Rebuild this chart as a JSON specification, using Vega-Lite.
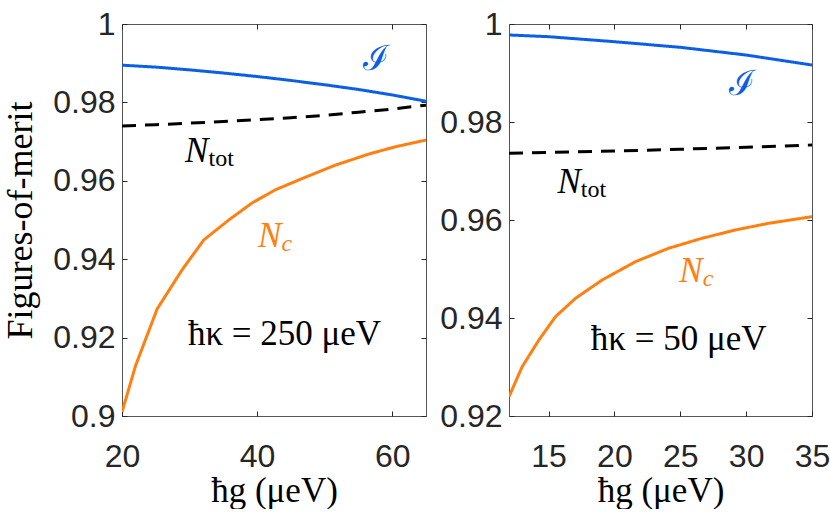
{
  "$schema": "https://vega.github.io/schema/vega-lite/v6.json",
  "background": "white",
  "padding": {"left": 2, "top": 7, "right": 0, "bottom": 0},
  "bounds": "flush",
  "spacing": 83,
  "config": {
    "view": {"stroke": "#555555", "strokeWidth": 1},
    "axis": {
      "domain": false, "grid": false, "ticks": true, "tickSize": -5, "tickColor": "#262626", "tickWidth": 1,
      "labelFont": "Liberation Sans", "labelFontSize": 32, "labelColor": "#262626", "labelPadding": 12,
      "labelFlush": false, "labelOverlap": false,
      "titleFont": "Liberation Serif", "titleFontSize": 35, "titleFontWeight": "normal", "titleColor": "#000000"
    },
    "text": {"font": "Liberation Serif"}
  },
  "datasets": {
    "left": [
      {"g": 20, "v": 0.9895, "s": "I"}, {"g": 25, "v": 0.9890, "s": "I"}, {"g": 30, "v": 0.9883, "s": "I"},
      {"g": 35, "v": 0.9875, "s": "I"}, {"g": 40, "v": 0.9866, "s": "I"}, {"g": 45, "v": 0.9856, "s": "I"},
      {"g": 50, "v": 0.9845, "s": "I"}, {"g": 55, "v": 0.9833, "s": "I"}, {"g": 60, "v": 0.9819, "s": "I"},
      {"g": 65, "v": 0.9803, "s": "I"},
      {"g": 20, "v": 0.9740, "s": "Ntot"}, {"g": 25, "v": 0.9743, "s": "Ntot"}, {"g": 30, "v": 0.9747, "s": "Ntot"},
      {"g": 35, "v": 0.9751, "s": "Ntot"}, {"g": 40, "v": 0.9756, "s": "Ntot"}, {"g": 45, "v": 0.9761, "s": "Ntot"},
      {"g": 50, "v": 0.9767, "s": "Ntot"}, {"g": 55, "v": 0.9775, "s": "Ntot"}, {"g": 60, "v": 0.9783, "s": "Ntot"},
      {"g": 65, "v": 0.9793, "s": "Ntot"},
      {"g": 20, "v": 0.9010, "s": "Nc"}, {"g": 22, "v": 0.9128, "s": "Nc"}, {"g": 25.2, "v": 0.9273, "s": "Nc"},
      {"g": 28.9, "v": 0.9373, "s": "Nc"}, {"g": 32.1, "v": 0.9449, "s": "Nc"}, {"g": 35.8, "v": 0.9500, "s": "Nc"},
      {"g": 39.3, "v": 0.9544, "s": "Nc"}, {"g": 42.7, "v": 0.9577, "s": "Nc"}, {"g": 46.7, "v": 0.9606, "s": "Nc"},
      {"g": 51.6, "v": 0.9640, "s": "Nc"}, {"g": 56.5, "v": 0.9668, "s": "Nc"}, {"g": 60.5, "v": 0.9687, "s": "Nc"},
      {"g": 65, "v": 0.9704, "s": "Nc"}
    ],
    "right": [
      {"g": 12, "v": 0.99776, "s": "I"}, {"g": 15, "v": 0.99741, "s": "I"}, {"g": 20, "v": 0.99639, "s": "I"},
      {"g": 25, "v": 0.99524, "s": "I"}, {"g": 30, "v": 0.99367, "s": "I"}, {"g": 35, "v": 0.99163, "s": "I"},
      {"g": 12, "v": 0.97361, "s": "Ntot"}, {"g": 20, "v": 0.97408, "s": "Ntot"}, {"g": 25, "v": 0.97444, "s": "Ntot"},
      {"g": 30, "v": 0.97484, "s": "Ntot"}, {"g": 35, "v": 0.97531, "s": "Ntot"},
      {"g": 12, "v": 0.92394, "s": "Nc"}, {"g": 13.0, "v": 0.93006, "s": "Nc"}, {"g": 14.27, "v": 0.93551, "s": "Nc"},
      {"g": 15.53, "v": 0.94027, "s": "Nc"}, {"g": 17.05, "v": 0.94402, "s": "Nc"}, {"g": 19.07, "v": 0.94776, "s": "Nc"},
      {"g": 21.6, "v": 0.95149, "s": "Nc"}, {"g": 24.1, "v": 0.95422, "s": "Nc"}, {"g": 26.64, "v": 0.95626, "s": "Nc"},
      {"g": 29.17, "v": 0.95796, "s": "Nc"}, {"g": 31.7, "v": 0.95932, "s": "Nc"}, {"g": 35, "v": 0.96068, "s": "Nc"}
    ],
    "leftLab": [
      {"g": 32.8, "v": 0.96487, "s": "Ntot", "main": "N", "sub": "tot"},
      {"g": 43.6, "v": 0.94304, "s": "Nc", "main": "N", "sub": "c"}
    ],
    "leftNote": [
      {"g": 57.63, "v": 0.98827, "s": "I", "t": "ℐ"},
      {"g": 44.05, "v": 0.91811, "s": "K", "t": "ħκ = 250 μeV"}
    ],
    "rightLab": [
      {"g": 17.45, "v": 0.96545, "s": "Ntot", "main": "N", "sub": "tot"},
      {"g": 26.7, "v": 0.94741, "s": "Nc", "main": "N", "sub": "c"}
    ],
    "rightNote": [
      {"g": 29.67, "v": 0.98551, "s": "I", "t": "ℐ"},
      {"g": 24.88, "v": 0.93347, "s": "K", "t": "ħκ = 50 μeV"}
    ]
  },
  "hconcat": [
    {
      "width": 304,
      "height": 392,
      "resolve": {"axis": {"x": "independent", "y": "independent"}},
      "layer": [
        {
          "data": {"name": "left"},
          "mark": {"type": "line", "strokeWidth": 3, "clip": true},
          "encoding": {
            "x": {"field": "g", "type": "quantitative", "scale": {"domain": [20, 65], "nice": false, "zero": false},
                  "axis": {"orient": "bottom", "values": [20, 40, 60], "title": "ħg  (μeV)", "labelPadding": 30, "titlePadding": 1}},
            "y": {"field": "v", "type": "quantitative", "scale": {"domain": [0.9, 1], "nice": false, "zero": false},
                  "axis": {"orient": "left", "values": [0.9, 0.92, 0.94, 0.96, 0.98, 1], "format": "~g", "title": "Figures-of-merit", "titlePadding": 13, "titleFontSize": 36}},
            "color": {"field": "s", "type": "nominal", "legend": null,
                      "scale": {"domain": ["I", "Ntot", "Nc", "K"], "range": ["#0a5fe6", "#000000", "#ff7f10", "#000000"]}},
            "strokeDash": {"field": "s", "type": "nominal", "legend": null,
                           "scale": {"domain": ["I", "Ntot", "Nc"], "range": [[1, 0], [14, 9], [1, 0]]}}
          }
        },
        {
          "data": {"name": "left"},
          "mark": {"type": "point", "opacity": 0},
          "encoding": {
            "x": {"field": "g", "type": "quantitative", "axis": {"orient": "top", "values": [20, 40, 60], "labels": false, "title": null}},
            "y": {"field": "v", "type": "quantitative", "axis": {"orient": "right", "values": [0.9, 0.92, 0.94, 0.96, 0.98, 1], "labels": false, "title": null}}
          }
        },
        {
          "data": {"name": "leftLab"},
          "mark": {"type": "text", "font": "Liberation Serif", "fontSize": 35, "fontStyle": "italic", "align": "right", "baseline": "alphabetic"},
          "encoding": {
            "x": {"field": "g", "type": "quantitative", "axis": null},
            "y": {"field": "v", "type": "quantitative", "axis": null},
            "text": {"field": "main"},
            "color": {"field": "s", "type": "nominal", "legend": null}
          }
        },
        {
          "data": {"name": "leftLab"},
          "transform": [{"filter": "datum.s == 'Ntot'"}],
          "mark": {"type": "text", "font": "Liberation Serif", "fontSize": 24, "align": "left", "baseline": "alphabetic", "dy": 4},
          "encoding": {
            "x": {"field": "g", "type": "quantitative", "axis": null},
            "y": {"field": "v", "type": "quantitative", "axis": null},
            "text": {"field": "sub"},
            "color": {"field": "s", "type": "nominal", "legend": null}
          }
        },
        {
          "data": {"name": "leftLab"},
          "transform": [{"filter": "datum.s == 'Nc'"}],
          "mark": {"type": "text", "font": "Liberation Serif", "fontSize": 24, "fontStyle": "italic", "align": "left", "baseline": "alphabetic", "dy": 4},
          "encoding": {
            "x": {"field": "g", "type": "quantitative", "axis": null},
            "y": {"field": "v", "type": "quantitative", "axis": null},
            "text": {"field": "sub"},
            "color": {"field": "s", "type": "nominal", "legend": null}
          }
        },
        {
          "data": {"name": "leftNote"},
          "mark": {"type": "text", "font": "Liberation Serif", "fontSize": 35, "align": "center", "baseline": "alphabetic"},
          "encoding": {
            "x": {"field": "g", "type": "quantitative", "axis": null},
            "y": {"field": "v", "type": "quantitative", "axis": null},
            "text": {"field": "t"},
            "color": {"field": "s", "type": "nominal", "legend": null}
          }
        }
      ]
    },
    {
      "width": 303,
      "height": 392,
      "resolve": {"axis": {"x": "independent", "y": "independent"}},
      "layer": [
        {
          "data": {"name": "right"},
          "mark": {"type": "line", "strokeWidth": 3, "clip": true},
          "encoding": {
            "x": {"field": "g", "type": "quantitative", "scale": {"domain": [12, 35], "nice": false, "zero": false},
                  "axis": {"orient": "bottom", "values": [15, 20, 25, 30, 35], "title": "ħg  (μeV)", "labelPadding": 30, "titlePadding": 1}},
            "y": {"field": "v", "type": "quantitative", "scale": {"domain": [0.92, 1], "nice": false, "zero": false},
                  "axis": {"orient": "left", "values": [0.92, 0.94, 0.96, 0.98, 1], "format": "~g", "title": null}},
            "color": {"field": "s", "type": "nominal", "legend": null,
                      "scale": {"domain": ["I", "Ntot", "Nc", "K"], "range": ["#0a5fe6", "#000000", "#ff7f10", "#000000"]}},
            "strokeDash": {"field": "s", "type": "nominal", "legend": null,
                           "scale": {"domain": ["I", "Ntot", "Nc"], "range": [[1, 0], [14, 9], [1, 0]]}}
          }
        },
        {
          "data": {"name": "right"},
          "mark": {"type": "point", "opacity": 0},
          "encoding": {
            "x": {"field": "g", "type": "quantitative", "axis": {"orient": "top", "values": [15, 20, 25, 30, 35], "labels": false, "title": null}},
            "y": {"field": "v", "type": "quantitative", "axis": {"orient": "right", "values": [0.92, 0.94, 0.96, 0.98, 1], "labels": false, "title": null}}
          }
        },
        {
          "data": {"name": "rightLab"},
          "mark": {"type": "text", "font": "Liberation Serif", "fontSize": 35, "fontStyle": "italic", "align": "right", "baseline": "alphabetic"},
          "encoding": {
            "x": {"field": "g", "type": "quantitative", "axis": null},
            "y": {"field": "v", "type": "quantitative", "axis": null},
            "text": {"field": "main"},
            "color": {"field": "s", "type": "nominal", "legend": null}
          }
        },
        {
          "data": {"name": "rightLab"},
          "transform": [{"filter": "datum.s == 'Ntot'"}],
          "mark": {"type": "text", "font": "Liberation Serif", "fontSize": 24, "align": "left", "baseline": "alphabetic", "dy": 4},
          "encoding": {
            "x": {"field": "g", "type": "quantitative", "axis": null},
            "y": {"field": "v", "type": "quantitative", "axis": null},
            "text": {"field": "sub"},
            "color": {"field": "s", "type": "nominal", "legend": null}
          }
        },
        {
          "data": {"name": "rightLab"},
          "transform": [{"filter": "datum.s == 'Nc'"}],
          "mark": {"type": "text", "font": "Liberation Serif", "fontSize": 24, "fontStyle": "italic", "align": "left", "baseline": "alphabetic", "dy": 4},
          "encoding": {
            "x": {"field": "g", "type": "quantitative", "axis": null},
            "y": {"field": "v", "type": "quantitative", "axis": null},
            "text": {"field": "sub"},
            "color": {"field": "s", "type": "nominal", "legend": null}
          }
        },
        {
          "data": {"name": "rightNote"},
          "mark": {"type": "text", "font": "Liberation Serif", "fontSize": 35, "align": "center", "baseline": "alphabetic"},
          "encoding": {
            "x": {"field": "g", "type": "quantitative", "axis": null},
            "y": {"field": "v", "type": "quantitative", "axis": null},
            "text": {"field": "t"},
            "color": {"field": "s", "type": "nominal", "legend": null}
          }
        }
      ]
    }
  ]
}
